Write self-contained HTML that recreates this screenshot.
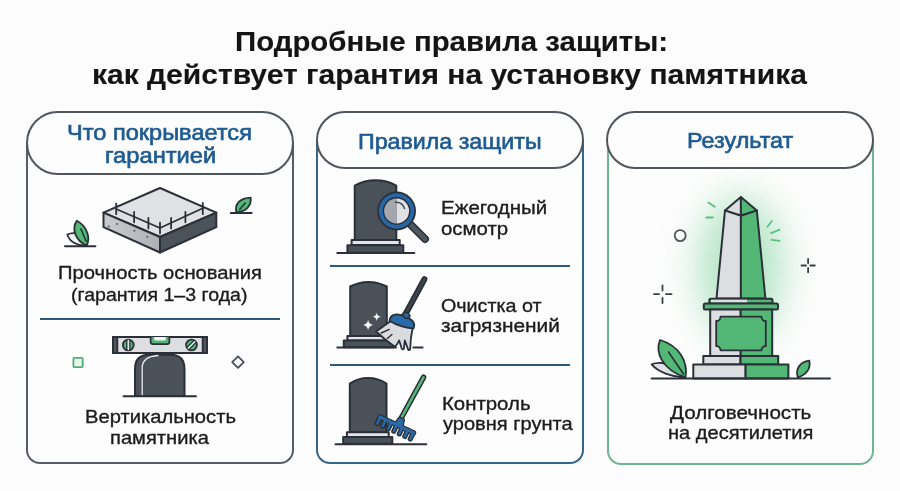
<!DOCTYPE html>
<html><head><meta charset="utf-8">
<style>
html,body{margin:0;padding:0;}
body{width:900px;height:491px;overflow:hidden;background:#fcfcfc;position:relative;font-family:"Liberation Sans",sans-serif;}
.t{position:absolute;white-space:nowrap;line-height:1;transform-origin:0 0;}
.panel{position:absolute;box-sizing:border-box;border:2px solid;border-top:none;border-radius:0 0 14px 14px;background:#fdfdfd;}
.pill{position:absolute;box-sizing:border-box;border:2px solid #50555b;background:#fdfdfd;}
.dv{position:absolute;height:2px;background:#2b5c7b;}
svg{position:absolute;overflow:visible;}
</style></head><body>
<div class="panel" style="left:26px;top:143px;width:268px;height:321px;border-color:#585d64;"></div>
<div class="panel" style="left:316px;top:140px;width:268px;height:324px;border-color:#33668a;"></div>
<div class="panel" style="left:607px;top:140px;width:267px;height:325px;border-color:#6db58e;"></div>
<div class="pill" style="left:26px;top:111px;width:268px;height:64px;border-radius:32px;"></div>
<div class="pill" style="left:316px;top:111px;width:268px;height:58px;border-radius:29px;"></div>
<div class="pill" style="left:606px;top:111px;width:268px;height:58px;border-radius:29px;"></div>
<div class="dv" style="left:40px;top:318px;width:240px;"></div>
<div class="dv" style="left:330px;top:265px;width:240px;"></div>
<div class="dv" style="left:330px;top:363.5px;width:240px;"></div>

<svg width="900" height="491" viewBox="0 0 900 491" style="left:0;top:0">
<defs>
 <filter id="blur" x="-100%" y="-100%" width="300%" height="300%"><feGaussianBlur stdDeviation="19"/></filter>
 <linearGradient id="slabL" x1="0" y1="0" x2="1" y2="0">
  <stop offset="0" stop-color="#c9cbcf"/><stop offset="1" stop-color="#aeb1b6"/>
 </linearGradient>
</defs>

<!-- ===== Panel 1 icon 1: slab ===== -->
<g stroke="#2b3038" stroke-width="2" stroke-linejoin="round" stroke-linecap="round">
 <polygon points="160,188 103.5,212.6 160,237 216.3,212.6" fill="#dfe1e4"/>
 <polygon points="103.5,212.6 160,237 160,252.5 103.5,227.2" fill="url(#slabL)"/>
 <polygon points="160,237 216.3,212.6 216.3,227.2 160,252.5" fill="#4c5259"/>
 <polyline points="116.2,209 160,228 203.3,208" fill="none" stroke-width="1.8"/>
 <g stroke-width="1.8">
  <line x1="116.2" y1="203.6" x2="116.2" y2="214.2"/>
  <line x1="134.1" y1="211.8" x2="134.1" y2="222.3"/>
  <line x1="148.4" y1="217.8" x2="148.4" y2="228.5"/>
  <line x1="160" y1="222.7" x2="160" y2="233.4"/>
  <line x1="171.1" y1="217.8" x2="171.1" y2="228.5"/>
  <line x1="185.4" y1="211.8" x2="185.4" y2="222.3"/>
  <line x1="202.8" y1="203" x2="202.8" y2="214.2"/>
 </g>
</g>
<g fill="#555a62">
 <circle cx="108.8" cy="226.4" r="1"/><circle cx="117" cy="224" r="1"/>
 <circle cx="134.4" cy="230.8" r="1"/><circle cx="147.4" cy="237" r="1"/>
</g>
<!-- leaves left -->
<g stroke="#2b3038" stroke-width="1.8" stroke-linejoin="round" stroke-linecap="round">
 <path d="M67.3,234.6 C72,232.3 77.5,232.8 80.5,235.5 L86,245.6 C76.5,246 69.5,241.5 67.3,234.6 Z" fill="#f4f5f6"/>
 <path d="M76.8,220.8 C71.5,228.5 75,240.5 86.7,245.6 C90.5,238 87.5,226.5 76.8,220.8 Z" fill="#53b775"/>
 <line x1="81" y1="229" x2="86" y2="241" stroke-width="1.6"/>
 <line x1="65" y1="246.3" x2="95.4" y2="246.3" stroke-width="2"/>
</g>
<!-- leaf right -->
<g stroke="#2b3038" stroke-width="1.8" stroke-linejoin="round" stroke-linecap="round">
 <path d="M236.3,212.3 C234.5,204 240,198 250.7,197.6 C251.5,206 246,212 236.3,212.3 Z" fill="#53b775"/>
 <line x1="239.7" y1="209.5" x2="245.2" y2="203.1" stroke-width="1.6"/>
 <line x1="230.8" y1="213.1" x2="251.6" y2="213.1" stroke-width="2"/>
</g>

<!-- ===== Panel 1 icon 2: level on headstone ===== -->
<rect x="73.4" y="357.8" width="9.3" height="9.3" rx="1" fill="#e9f7ee" stroke="#4fae72" stroke-width="1.8"/>
<polygon points="238,356.3 243.8,362.1 238,367.9 232.2,362.1" fill="none" stroke="#4a4f57" stroke-width="1.8" stroke-linejoin="round"/>
<g stroke="#2b3038" stroke-width="2" stroke-linejoin="round" stroke-linecap="round">
 <path d="M135,396 L135,369 Q135,354.8 149,354.8 L170.5,354.8 Q184.5,354.8 184.5,369 L184.5,396 Z" fill="#4b5159"/>
 <path d="M142.2,395 L142.2,367.5 Q142.5,356.5 158,355.5" fill="none" stroke="#e8eaec" stroke-width="1.3"/>
 <line x1="123.5" y1="396.2" x2="196" y2="396.2" stroke-width="1.9"/>
 <rect x="113" y="337" width="94" height="16" fill="#dcdee1" stroke-width="1.9"/>
 <rect x="113" y="337" width="4.3" height="16" fill="#50565e" stroke-width="1.9"/>
 <rect x="202.7" y="337" width="4.3" height="16" fill="#50565e" stroke-width="1.9"/>
 <path d="M150.6,337 L150.6,341.8 Q150.6,344.2 153,344.2 L167,344.2 Q169.4,344.2 169.4,341.8 L169.4,337" fill="#52b376" stroke-width="1.7"/>
 <path d="M154.2,337 L154.2,339.2 Q154.2,340.6 155.6,340.6 L164.4,340.6 Q165.8,340.6 165.8,339.2 L165.8,337 Z" fill="#f2f4f3" stroke="none"/>
 <circle cx="128.3" cy="345" r="5.4" fill="#52b376" stroke-width="1.8"/>
 <line x1="128.3" y1="340.5" x2="128.3" y2="349.5" stroke="#e6ece8" stroke-width="1.5"/>
 <line x1="126.7" y1="340.6" x2="126.7" y2="349.4" stroke-width="1.1"/>
 <line x1="129.9" y1="340.6" x2="129.9" y2="349.4" stroke-width="1.1"/>
 <circle cx="191.5" cy="345" r="5.4" fill="#52b376" stroke-width="1.8"/>
 <line x1="188.3" y1="348.2" x2="194.7" y2="341.8" stroke="#e6ece8" stroke-width="1.5"/>
 <line x1="187.3" y1="347.1" x2="193.6" y2="340.8" stroke-width="1.1"/>
 <line x1="189.4" y1="349.2" x2="195.7" y2="342.9" stroke-width="1.1"/>
</g>

<!-- ===== Panel 2 icon 1: headstone + magnifier ===== -->
<g stroke="#2b3038" stroke-width="2" stroke-linejoin="round" stroke-linecap="round">
 <path d="M354.75,239.7 L354.75,185.6 A43,43 0 0 1 396.3,185.6 L396.3,240.1 Z" fill="#4b5159"/>
 <rect x="351.6" y="240.1" width="48.1" height="5" fill="#e2e4e7"/>
 <rect x="347.4" y="245.2" width="55.9" height="7.5" fill="#4b5159"/>
 <line x1="337.3" y1="252.9" x2="414.3" y2="252.9"/>
 <line x1="411" y1="225" x2="425" y2="239" stroke="#2b3038" stroke-width="8"/>
 <line x1="411" y1="225" x2="425" y2="239" stroke="#4f5661" stroke-width="4.6" />
 <circle cx="396.6" cy="211" r="19.4" fill="#2b3038" stroke="none"/>
 <circle cx="396.6" cy="211" r="17.7" fill="#2766a5" stroke="none"/>
 <circle cx="396.6" cy="211" r="13.9" fill="#2b3038" stroke="none"/>
 <path d="M396.6,198.5 A12.5,12.5 0 0 0 396.6,223.5 Z" fill="#a3a7ad" stroke="none"/>
 <path d="M396.6,198.5 A12.5,12.5 0 0 1 396.6,223.5 Z" fill="#dfe1e4" stroke="none"/>
 <path d="M395.5,202.3 Q402.5,202 404.5,208.5" fill="none" stroke="#3d424a" stroke-width="1.4"/>
</g>

<!-- ===== Panel 2 icon 2: headstone + broom ===== -->
<g stroke="#2b3038" stroke-width="2" stroke-linejoin="round" stroke-linecap="round">
 <path d="M350.2,336 L350.2,286.5 A38.7,38.7 0 0 1 386.8,286.5 L386.8,336 Z" fill="#4b5159"/>
 <rect x="347.4" y="336" width="42" height="4.6" fill="#e2e4e7"/>
 <rect x="343.75" y="340.6" width="49.5" height="6.6" fill="#4b5159"/>
 <line x1="337.3" y1="347.4" x2="396" y2="347.4"/>
 <line x1="413.4" y1="347.4" x2="422.6" y2="347.4"/>
</g>
<g fill="#f2f3f4">
 <path d="M376.75,312.5 Q377.3,316.2 381,316.75 Q377.3,317.3 376.75,321 Q376.2,317.3 372.5,316.75 Q376.2,316.2 376.75,312.5 Z"/>
 <path d="M368.1,319.8 Q368.8,324.3 373.3,325 Q368.8,325.7 368.1,330.2 Q367.4,325.7 362.9,325 Q367.4,324.3 368.1,319.8 Z"/>
</g>
<g stroke="#2b3038" stroke-width="2" stroke-linejoin="round" stroke-linecap="round">
 <line x1="424.4" y1="279.2" x2="405" y2="315" stroke-width="6"/>
 <line x1="424.4" y1="279.2" x2="405" y2="315" stroke="#3f444c" stroke-width="2.6"/>
 <path d="M390.4,321.3 L376.1,331.5 Q385,340 393.9,346 Q395.8,346.6 396.8,344.6 L399.2,340.5 L401.6,348.3 Q402.6,350.2 403.9,348.6 L404.8,340.5 L408.2,349.6 Q409.6,351 410.2,349.2 Q410.4,338 412.5,328.5 Z" fill="#d9dbde" stroke-width="1.8"/>
 <path d="M381.2,333 L389.3,329.4 M387.3,338.6 L391.9,334.5" fill="none" stroke-width="1.4"/>
 <path d="M389.6,320.8 Q390,314.3 397,314.3 Q406.5,315.5 412,320.5 Q415.5,324 413.5,328.5 Q400,327.5 389.6,320.8 Z" fill="#2a6aa9" stroke-width="1.8"/>
 <path d="M402,314.6 Q403.5,311.8 407,312.5 L410,315.5 Q409,318.8 405.5,318.2 Z" fill="#2a6aa9" stroke-width="1.6"/>
</g>

<!-- ===== Panel 2 icon 3: headstone + rake ===== -->
<g stroke="#2b3038" stroke-width="2" stroke-linejoin="round" stroke-linecap="round">
 <path d="M349.8,432.3 L349.8,383.5 A33,33 0 0 1 386.5,383.5 L386.5,432.3 Z" fill="#4b5159"/>
 <rect x="346.9" y="432.3" width="41.8" height="4.6" fill="#e2e4e7"/>
 <rect x="343.2" y="436.9" width="49.1" height="6.8" fill="#4b5159"/>
 <line x1="335.5" y1="444.25" x2="426.25" y2="444.25"/>
 <line x1="423.5" y1="377.3" x2="401.5" y2="417.5" stroke-width="5.6"/>
 <line x1="423.5" y1="377.3" x2="401.5" y2="417.5" stroke="#55b877" stroke-width="2.6"/>
</g>
<g transform="translate(379.8,416.9) rotate(25.2)">
 <g stroke="#2b3038" stroke-width="5.2" stroke-linecap="round" stroke-linejoin="round" fill="#2b3038">
  <line x1="0" y1="0" x2="37.35" y2="0"/>
  <line x1="0.5" y1="0" x2="0.5" y2="7"/><line x1="6.6" y1="0" x2="6.6" y2="7"/><line x1="12.7" y1="0" x2="12.7" y2="7"/>
  <line x1="18.8" y1="0" x2="18.8" y2="7"/><line x1="24.9" y1="0" x2="24.9" y2="7"/><line x1="31" y1="0" x2="31" y2="7"/><line x1="37" y1="0" x2="37" y2="7"/>
  <polygon points="16.8,0 18.3,-7.5 22.8,-7.5 24.3,0" stroke-width="3"/>
 </g>
 <g stroke="#2a6aa9" stroke-width="2.4" stroke-linecap="round" stroke-linejoin="round" fill="#2a6aa9">
  <line x1="0" y1="0" x2="37.35" y2="0" stroke-width="3"/>
  <line x1="0.5" y1="0" x2="0.5" y2="7"/><line x1="6.6" y1="0" x2="6.6" y2="7"/><line x1="12.7" y1="0" x2="12.7" y2="7"/>
  <line x1="18.8" y1="0" x2="18.8" y2="7"/><line x1="24.9" y1="0" x2="24.9" y2="7"/><line x1="31" y1="0" x2="31" y2="7"/><line x1="37" y1="0" x2="37" y2="7"/>
  <polygon points="16.8,0 18.3,-7.5 22.8,-7.5 24.3,0" stroke-width="0.4"/>
 </g>
</g>

<!-- ===== Panel 3: obelisk ===== -->
<ellipse cx="741" cy="268" rx="42" ry="72" fill="#9adcb1" opacity="0.75" filter="url(#blur)"/>
<g stroke="#5cc081" stroke-width="1.8" stroke-linecap="round">
 <line x1="708.3" y1="202.6" x2="714.8" y2="206.7"/>
 <line x1="706.3" y1="217.5" x2="712.8" y2="217.5"/>
 <line x1="767.4" y1="226.7" x2="771.9" y2="221"/>
 <line x1="771.1" y1="233.2" x2="779.6" y2="229.7"/>
 <line x1="771.5" y1="239.9" x2="779.6" y2="240.9"/>
</g>
<circle cx="680.2" cy="235.6" r="5.5" fill="none" stroke="#50555c" stroke-width="1.8"/>
<g stroke="#3c4148" stroke-width="1.8" stroke-linecap="round">
 <line x1="654" y1="294.2" x2="659" y2="294.2"/><line x1="666" y1="294.2" x2="671.5" y2="294.2"/>
 <line x1="662.5" y1="285.5" x2="662.5" y2="290.5"/><line x1="662.5" y1="298" x2="662.5" y2="303"/>
 <line x1="801.5" y1="265.5" x2="806" y2="265.5"/><line x1="810.3" y1="265.5" x2="814.8" y2="265.5"/>
 <line x1="808.1" y1="259" x2="808.1" y2="263.3"/><line x1="808.1" y1="268" x2="808.1" y2="272.3"/>
</g>
<g stroke="#2b3038" stroke-width="2" stroke-linejoin="round" stroke-linecap="round">
 <!-- shaft -->
 <polygon points="725,210.4 740.9,215.5 740.9,298.5 716.5,298.5" fill="#dcdee2"/>
 <polygon points="740.9,215.5 756.8,210.4 765.4,298.5 740.9,298.5" fill="#53b775"/>
 <polygon points="740.9,197.1 725,210.4 740.9,215.5" fill="#dcdee2"/>
 <polygon points="740.9,197.1 756.8,210.4 740.9,215.5" fill="#53b775"/>
 <!-- cap tiers -->
 <rect x="709.3" y="298.7" width="63.2" height="4.7" rx="1.5" fill="#53b775"/>
 <rect x="711" y="299.7" width="36" height="2.8" fill="#dcdee2" stroke="none"/>
 <rect x="703.8" y="303.4" width="74.2" height="6.1" rx="1.5" fill="#53b775"/>
 <!-- body -->
 <rect x="710.2" y="309.5" width="30.5" height="46.5" fill="#dcdee2" />
 <rect x="740.7" y="309.5" width="31.5" height="46.5" fill="#53b775" />
 <path d="M720.5,316.7 L761.5,316.7 A4.3,4.3 0 0 0 765.8,321 L765.8,346 A4.3,4.3 0 0 0 761.5,350.3 L720.5,350.3 A4.3,4.3 0 0 0 716.2,346 L716.2,321 A4.3,4.3 0 0 0 720.5,316.7 Z" fill="#53b775" stroke-width="1.8"/>
 <!-- steps -->
 <rect x="703.3" y="356" width="37.2" height="8.4" fill="#dcdee2"/>
 <rect x="740.5" y="356" width="37.7" height="8.4" fill="#53b775"/>
 <rect x="693.3" y="364.4" width="52.3" height="14" fill="#dcdee2"/>
 <rect x="745.6" y="364.4" width="42.8" height="14" fill="#53b775"/>
 <!-- leaves -->
 <path d="M651.6,364.4 C657,362 667,362.5 673,366 L684,377.5 C672,377 658,372 651.6,364.4 Z" fill="#dfe1e4" stroke-width="1.8"/>
 <path d="M660,340 C655,352 662,370 685.6,377.3 C688,362 680,346 660,340 Z" fill="#53b775" stroke-width="1.8"/>
 <line x1="668.5" y1="352" x2="683.5" y2="374" stroke-width="1.6"/>
 <path d="M797.8,377.3 C795,369 800,362 809.3,360.7 C811,369 806,375 797.8,377.3 Z" fill="#53b775" stroke-width="1.8"/>
 <line x1="651.6" y1="378.4" x2="830" y2="378.4" stroke-width="2"/>
</g>
</svg>

<div class="t" style="left:234.52px;top:29.0px;font-size:27px;font-weight:bold;color:#141414;-webkit-text-stroke:0.12px #141414;transform:scaleX(1.0893);">Подробные правила защиты:</div>
<div class="t" style="left:91.58px;top:61.6px;font-size:27px;font-weight:bold;color:#141414;-webkit-text-stroke:0.12px #141414;transform:scaleX(1.1114);">как действует гарантия на установку памятника</div>
<div class="t" style="left:66.73px;top:122.3px;font-size:22px;font-weight:normal;color:#1e5b91;-webkit-text-stroke:0.65px #1e5b91;transform:scaleX(1.0713);">Что покрывается</div>
<div class="t" style="left:104.52px;top:144.5px;font-size:22px;font-weight:normal;color:#1e5b91;-webkit-text-stroke:0.65px #1e5b91;transform:scaleX(1.0772);">гарантией</div>
<div class="t" style="left:358.25px;top:130.5px;font-size:22px;font-weight:normal;color:#1e5b91;-webkit-text-stroke:0.65px #1e5b91;transform:scaleX(1.0547);">Правила защиты</div>
<div class="t" style="left:687.34px;top:130.0px;font-size:22px;font-weight:normal;color:#1e5b91;-webkit-text-stroke:0.65px #1e5b91;transform:scaleX(1.0626);">Результат</div>
<div class="t" style="left:57.51px;top:264.4px;font-size:18.5px;font-weight:normal;color:#1c1c1c;-webkit-text-stroke:0.35px #1c1c1c;transform:scaleX(1.093);">Прочность основания</div>
<div class="t" style="left:71.44px;top:285.5px;font-size:18.5px;font-weight:normal;color:#1c1c1c;-webkit-text-stroke:0.35px #1c1c1c;transform:scaleX(1.0564);">(гарантия 1–3 года)</div>
<div class="t" style="left:84.51px;top:408.0px;font-size:18.5px;font-weight:normal;color:#1c1c1c;-webkit-text-stroke:0.35px #1c1c1c;transform:scaleX(1.0905);">Вертикальность</div>
<div class="t" style="left:109.91px;top:428.6px;font-size:18.5px;font-weight:normal;color:#1c1c1c;-webkit-text-stroke:0.35px #1c1c1c;transform:scaleX(1.0889);">памятника</div>
<div class="t" style="left:441.39px;top:198.8px;font-size:18.5px;font-weight:normal;color:#1c1c1c;-webkit-text-stroke:0.35px #1c1c1c;transform:scaleX(1.1085);">Ежегодный</div>
<div class="t" style="left:441.4px;top:219.5px;font-size:18.5px;font-weight:normal;color:#1c1c1c;-webkit-text-stroke:0.35px #1c1c1c;transform:scaleX(1.1017);">осмотр</div>
<div class="t" style="left:440.63px;top:297.2px;font-size:18.5px;font-weight:normal;color:#1c1c1c;-webkit-text-stroke:0.35px #1c1c1c;transform:scaleX(1.0656);">Очистка от</div>
<div class="t" style="left:440.87px;top:317.4px;font-size:18.5px;font-weight:normal;color:#1c1c1c;-webkit-text-stroke:0.35px #1c1c1c;transform:scaleX(1.1269);">загрязнений</div>
<div class="t" style="left:441.9px;top:395.0px;font-size:18.5px;font-weight:normal;color:#1c1c1c;-webkit-text-stroke:0.35px #1c1c1c;transform:scaleX(1.1013);">Контроль</div>
<div class="t" style="left:443.0px;top:415.2px;font-size:18.5px;font-weight:normal;color:#1c1c1c;-webkit-text-stroke:0.35px #1c1c1c;transform:scaleX(1.0833);">уровня грунта</div>
<div class="t" style="left:669.8px;top:404.4px;font-size:18.5px;font-weight:normal;color:#1c1c1c;-webkit-text-stroke:0.35px #1c1c1c;transform:scaleX(1.1143);">Долговечность</div>
<div class="t" style="left:667.82px;top:423.8px;font-size:18.5px;font-weight:normal;color:#1c1c1c;-webkit-text-stroke:0.35px #1c1c1c;transform:scaleX(1.0841);">на десятилетия</div>
</body></html>
